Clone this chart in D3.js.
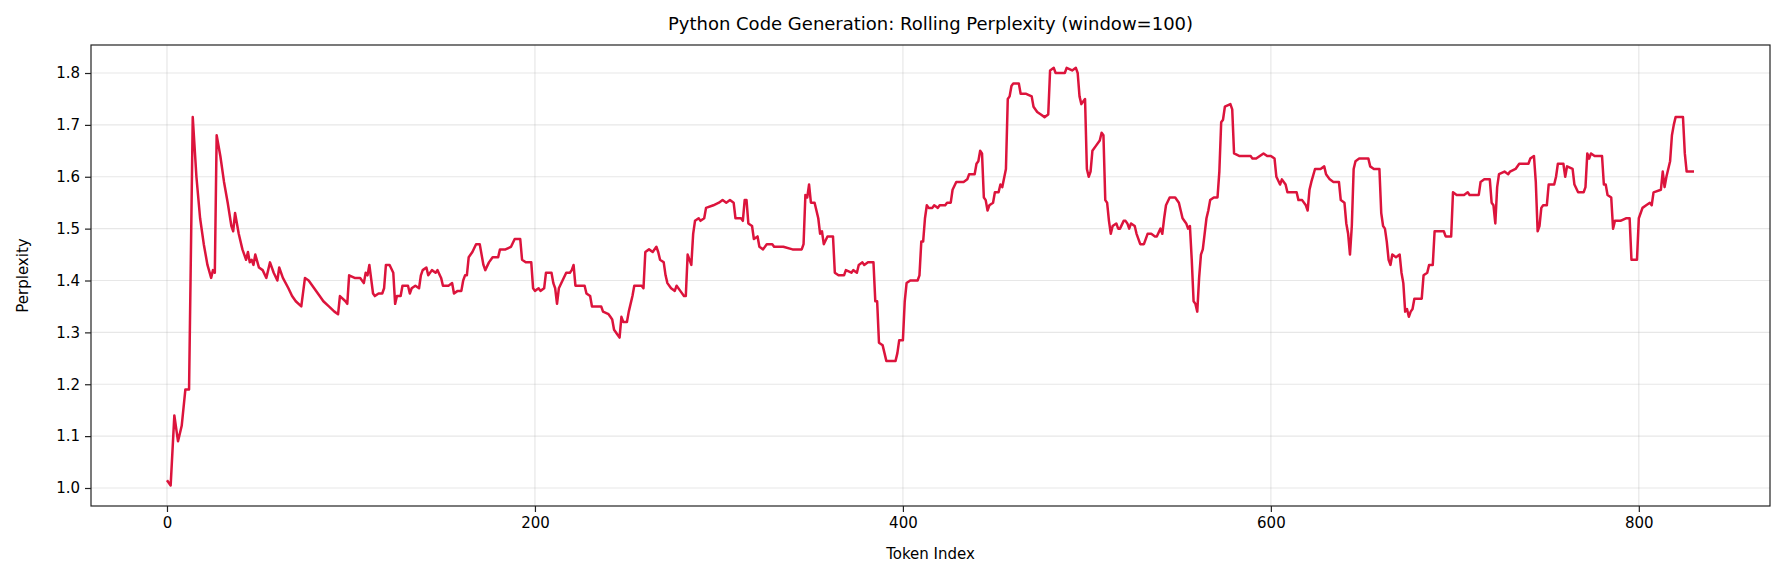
<!DOCTYPE html>
<html>
<head>
<meta charset="utf-8">
<script src="https://cdn.jsdelivr.net/npm/d3@7"></script>
<style>
  body { margin: 0; background: #fff; }
  text { font-family: "DejaVu Sans", sans-serif; fill: #000; }
</style>
</head>
<body>
<div id="chart"></div>
<script>
// token index / rolling perplexity pairs
var tokens = [0,2,4,6,8,10,12,14,16,18,20,22,24,25,26,27,29,31,33,35,36,37,39,41,43,44,45,46,47,48,50,52,54,56,58,60,61,63,66,68,70,73,75,77,80,83,85,88,91,93,94,97,98,99,102,105,107,108,109,110,112,113,115,117,118,119,121,123,124,125,127,128,131,132,133,135,137,138,139,141,142,144,146,147,149,150,153,155,156,158,160,161,162,163,164,166,168,170,172,173,175,177,180,181,184,187,189,192,193,195,198,199,200,202,203,205,206,209,210,211,212,213,215,217,219,220,221,222,225,227,228,230,231,234,236,237,240,241,242,243,245,246,247,248,250,251,253,254,258,259,260,262,264,266,267,268,270,271,272,274,276,277,279,281,282,283,285,286,287,289,290,292,293,297,300,302,304,306,308,309,312,313,314,315,316,318,319,321,322,324,326,329,330,332,335,340,345,346,347,348,349,350,352,354,355,356,357,359,362,363,365,368,369,372,373,375,376,378,379,381,384,385,386,387,389,390,391,394,396,397,398,400,401,402,404,408,409,410,411,412,413,414,416,417,419,420,423,424,426,427,429,433,435,436,439,440,441,442,443,444,445,446,447,449,450,452,453,454,456,457,458,459,460,463,464,467,470,471,473,475,477,479,480,482,483,486,488,489,492,494,495,496,497,498,499,500,501,502,503,505,507,508,509,510,511,512,513,514,516,517,518,520,521,522,523,524,526,527,529,531,533,535,537,538,540,541,542,543,545,548,550,551,552,554,555,556,557,558,559,560,561,562,563,564,565,566,567,569,571,572,573,574,575,578,579,580,583,585,589,590,592,594,596,598,600,602,603,605,606,608,609,614,615,617,619,620,621,622,624,627,629,630,632,634,637,638,640,641,642,643,644,645,646,648,653,654,656,659,660,661,662,663,664,665,666,668,670,671,672,673,674,675,676,677,678,682,683,685,686,688,689,691,694,695,698,699,701,703,705,707,708,710,712,713,714,716,719,720,721,722,723,724,727,729,730,733,735,738,740,741,743,744,745,746,747,748,750,751,754,755,756,759,760,761,764,765,767,770,771,772,773,774,776,780,781,782,783,785,786,787,790,793,795,796,799,800,802,804,806,807,808,812,813,814,815,817,818,819,820,824,825,826,830];
var perplexity = [1.015,1.005,1.14,1.09,1.12,1.19,1.19,1.715,1.6,1.52,1.47,1.43,1.405,1.42,1.415,1.68,1.64,1.59,1.55,1.505,1.495,1.53,1.49,1.46,1.44,1.455,1.435,1.44,1.43,1.45,1.425,1.42,1.405,1.435,1.415,1.40,1.425,1.405,1.385,1.37,1.36,1.35,1.405,1.40,1.385,1.37,1.36,1.35,1.34,1.335,1.37,1.36,1.355,1.41,1.405,1.405,1.395,1.415,1.41,1.43,1.375,1.37,1.375,1.375,1.385,1.43,1.43,1.415,1.355,1.37,1.37,1.39,1.39,1.375,1.385,1.39,1.385,1.41,1.42,1.425,1.41,1.42,1.415,1.42,1.405,1.39,1.39,1.395,1.375,1.38,1.38,1.4,1.41,1.41,1.445,1.455,1.47,1.47,1.43,1.42,1.435,1.445,1.445,1.46,1.46,1.465,1.48,1.48,1.44,1.435,1.435,1.385,1.38,1.385,1.38,1.385,1.415,1.415,1.395,1.385,1.355,1.385,1.4,1.415,1.415,1.42,1.43,1.39,1.39,1.39,1.375,1.37,1.35,1.35,1.35,1.34,1.335,1.33,1.325,1.305,1.295,1.29,1.33,1.32,1.32,1.34,1.37,1.39,1.39,1.385,1.455,1.46,1.455,1.465,1.455,1.44,1.435,1.41,1.395,1.385,1.38,1.39,1.38,1.37,1.37,1.45,1.43,1.49,1.515,1.52,1.515,1.52,1.54,1.545,1.55,1.555,1.55,1.555,1.55,1.52,1.52,1.515,1.555,1.555,1.51,1.505,1.48,1.485,1.465,1.46,1.47,1.47,1.465,1.465,1.465,1.46,1.46,1.47,1.565,1.56,1.585,1.55,1.55,1.52,1.49,1.495,1.47,1.485,1.485,1.415,1.41,1.41,1.42,1.415,1.42,1.415,1.43,1.435,1.43,1.435,1.435,1.36,1.36,1.28,1.275,1.26,1.245,1.245,1.245,1.26,1.285,1.285,1.36,1.395,1.4,1.4,1.41,1.475,1.475,1.52,1.545,1.54,1.54,1.545,1.54,1.545,1.545,1.55,1.55,1.575,1.59,1.59,1.595,1.605,1.605,1.625,1.63,1.65,1.645,1.56,1.555,1.535,1.545,1.55,1.57,1.57,1.585,1.58,1.615,1.75,1.755,1.775,1.78,1.78,1.76,1.76,1.755,1.735,1.725,1.72,1.715,1.72,1.805,1.81,1.8,1.8,1.8,1.81,1.805,1.81,1.8,1.755,1.74,1.745,1.75,1.615,1.6,1.61,1.65,1.66,1.67,1.685,1.68,1.555,1.55,1.515,1.49,1.505,1.51,1.5,1.5,1.515,1.515,1.51,1.5,1.51,1.505,1.49,1.47,1.47,1.49,1.49,1.485,1.485,1.5,1.49,1.52,1.545,1.56,1.56,1.55,1.535,1.52,1.51,1.5,1.505,1.44,1.36,1.355,1.34,1.405,1.45,1.46,1.49,1.52,1.535,1.555,1.56,1.56,1.61,1.705,1.71,1.735,1.74,1.73,1.645,1.64,1.64,1.64,1.635,1.635,1.64,1.645,1.64,1.64,1.635,1.60,1.585,1.595,1.585,1.57,1.57,1.555,1.555,1.545,1.535,1.575,1.59,1.615,1.615,1.62,1.605,1.595,1.59,1.59,1.555,1.55,1.51,1.49,1.45,1.505,1.615,1.63,1.635,1.635,1.62,1.615,1.615,1.53,1.505,1.5,1.475,1.44,1.43,1.45,1.445,1.45,1.415,1.395,1.34,1.345,1.33,1.34,1.345,1.365,1.365,1.41,1.415,1.43,1.43,1.495,1.495,1.495,1.485,1.485,1.57,1.565,1.565,1.565,1.57,1.565,1.565,1.565,1.565,1.59,1.595,1.595,1.55,1.545,1.51,1.58,1.605,1.61,1.605,1.61,1.615,1.625,1.625,1.625,1.635,1.64,1.59,1.495,1.505,1.54,1.545,1.545,1.585,1.585,1.6,1.625,1.625,1.6,1.62,1.615,1.585,1.57,1.57,1.58,1.645,1.635,1.645,1.64,1.64,1.585,1.585,1.565,1.56,1.5,1.515,1.515,1.52,1.52,1.44,1.44,1.52,1.54,1.545,1.55,1.545,1.57,1.575,1.61,1.58,1.6,1.63,1.68,1.7,1.715,1.715,1.645,1.61,1.61,1.612];
var xTicks = [0, 200, 400, 600, 800];
var yTicks = [1.0, 1.1, 1.2, 1.3, 1.4, 1.5, 1.6, 1.7, 1.8];

var svgWidth = 1785, svgHeight = 584;
var margin = { top: 45, right: 15, bottom: 78, left: 91 };
var width = svgWidth - margin.left - margin.right;
var height = svgHeight - margin.top - margin.bottom;

var svg = d3.select("#chart").append("svg")
  .attr("width", svgWidth)
  .attr("height", svgHeight);

var g = svg.append("g")
  .attr("transform", `translate(${margin.left}, ${margin.top})`);

var x = d3.scaleLinear().domain([-41.3, 871.3]).range([0, width]);
var y = d3.scaleLinear().domain([0.9653, 1.854]).range([height, 0]);

// grid
g.append("g").selectAll("line").data(xTicks).enter().append("line")
  .attr("x1", d => x(d)).attr("x2", d => x(d))
  .attr("y1", 0).attr("y2", height)
  .attr("stroke", "#b0b0b0").attr("stroke-opacity", 0.3).attr("stroke-width", 1.2);
g.append("g").selectAll("line").data(yTicks).enter().append("line")
  .attr("y1", d => y(d)).attr("y2", d => y(d))
  .attr("x1", 0).attr("x2", width)
  .attr("stroke", "#b0b0b0").attr("stroke-opacity", 0.3).attr("stroke-width", 1.2);

// line
var data = tokens.map((t, i) => [t, perplexity[i]]);
g.append("path")
  .datum(data)
  .attr("fill", "none")
  .attr("stroke", "#dc143c")
  .attr("stroke-width", 2.5)
  .attr("stroke-linejoin", "round")
  .attr("d", d3.line().x(d => x(d[0])).y(d => y(d[1])));

// axes
var xAxis = g.append("g")
  .attr("transform", `translate(0, ${height})`)
  .call(d3.axisBottom(x).tickValues(xTicks).tickSize(6).tickPadding(5));
var yAxis = g.append("g")
  .call(d3.axisLeft(y).tickValues(yTicks).tickFormat(d3.format(".1f")).tickSize(6).tickPadding(5));
[xAxis, yAxis].forEach(a => {
  a.select(".domain").remove();
  a.selectAll("text").style("font-size", "15px").style("font-family", "DejaVu Sans");
  a.selectAll("line").attr("stroke", "#222").attr("stroke-width", 1.2);
});

g.append("rect")
  .attr("width", width).attr("height", height)
  .attr("fill", "none").attr("stroke", "#222").attr("stroke-width", 1.2);

// labels
svg.append("text")
  .attr("x", margin.left + width / 2).attr("y", 30)
  .attr("text-anchor", "middle").style("font-size", "18px")
  .text("Python Code Generation: Rolling Perplexity (window=100)");
svg.append("text")
  .attr("x", margin.left + width / 2).attr("y", 559)
  .attr("text-anchor", "middle").style("font-size", "15px")
  .text("Token Index");
svg.append("text")
  .attr("transform", `translate(28, ${margin.top + height / 2}) rotate(-90)`)
  .attr("text-anchor", "middle").style("font-size", "15px")
  .text("Perplexity");
</script>
</body>
</html>
